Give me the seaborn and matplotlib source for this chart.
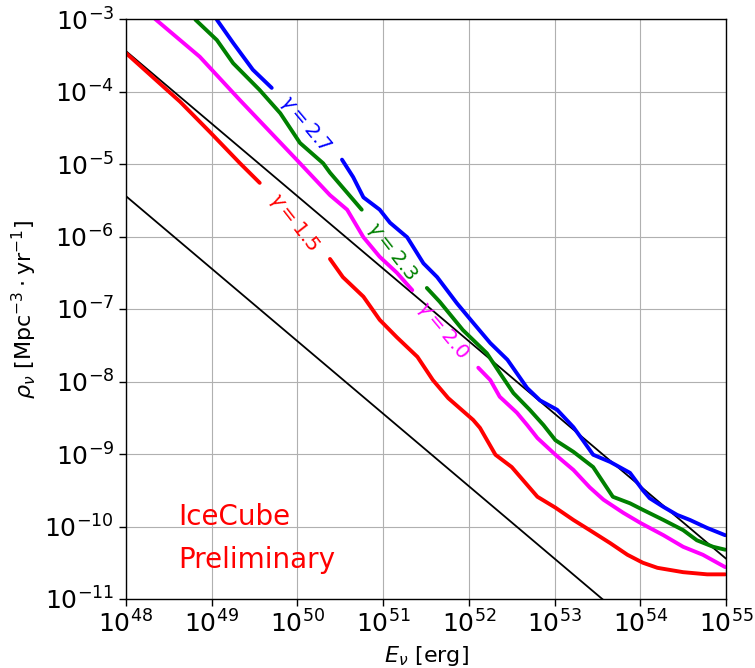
import numpy as np
import pandas as pd
import matplotlib
matplotlib.use("Agg")
import matplotlib.pyplot as plt
import seaborn as sns

# log10(E / erg) and log10(rho / Mpc^-3 yr^-1) for each spectral index,
# split into the stretch before and after the inline label.
g27_a_logE = [49.06, 49.25, 49.48, 49.70]
g27_a_logR = [-3.01, -3.33, -3.70, -3.95]
g27_b_logE = [50.52, 50.65, 50.77, 50.96, 51.08, 51.28, 51.47, 51.63, 51.86, 52.05,
              52.25, 52.45, 52.68, 52.83, 53.03, 53.22, 53.33, 53.45, 53.65, 53.88,
              54.03, 54.11, 54.27, 54.43, 54.58, 54.78, 54.99]
g27_b_logR = [-4.94, -5.18, -5.46, -5.63, -5.81, -6.01, -6.37, -6.56, -6.92, -7.19,
              -7.47, -7.70, -8.09, -8.26, -8.39, -8.63, -8.81, -9.01, -9.11, -9.26,
              -9.50, -9.61, -9.73, -9.84, -9.91, -10.02, -10.12]

g23_a_logE = [48.81, 49.06, 49.25, 49.56, 49.80, 50.03, 50.30, 50.38, 50.75]
g23_a_logR = [-3.01, -3.29, -3.61, -3.98, -4.30, -4.71, -4.99, -5.12, -5.63]
g23_b_logE = [51.51, 51.66, 51.93, 52.21, 52.36, 52.52, 52.71, 52.87, 53.01, 53.22,
              53.45, 53.68, 53.88, 54.03, 54.27, 54.50, 54.66, 54.85, 54.99]
g23_b_logR = [-6.71, -6.90, -7.29, -7.61, -7.88, -8.16, -8.39, -8.60, -8.81, -8.97,
              -9.18, -9.59, -9.68, -9.77, -9.91, -10.05, -10.19, -10.28, -10.32]

g20_a_logE = [48.34, 48.86, 49.33, 50.03, 50.38, 50.58, 50.77, 50.96, 51.16, 51.34]
g20_a_logR = [-3.00, -3.52, -4.12, -4.99, -5.43, -5.63, -6.01, -6.28, -6.50, -6.74]
g20_b_logE = [52.11, 52.25, 52.36, 52.56, 52.68, 52.80, 53.01, 53.22, 53.41, 53.57,
              53.80, 54.00, 54.27, 54.50, 54.73, 54.99]
g20_b_logR = [-7.81, -7.98, -8.21, -8.43, -8.60, -8.78, -9.01, -9.22, -9.46, -9.63,
              -9.81, -9.95, -10.12, -10.28, -10.39, -10.56]

g15_a_logE = [48.00, 48.63, 48.98, 49.33, 49.56]
g15_a_logR = [-3.47, -4.14, -4.56, -4.99, -5.26]
g15_b_logE = [50.38, 50.53, 50.77, 50.96, 51.16, 51.40, 51.58, 51.76, 52.05, 52.13,
              52.31, 52.50, 52.80, 53.01, 53.22, 53.41, 53.65, 53.85, 54.03, 54.20,
              54.50, 54.78, 54.99]
g15_b_logR = [-6.31, -6.56, -6.83, -7.15, -7.39, -7.66, -7.98, -8.23, -8.53, -8.64,
              -9.01, -9.18, -9.59, -9.74, -9.91, -10.05, -10.23, -10.39, -10.50, -10.57,
              -10.63, -10.66, -10.66]

# Reference lines rho = A * (E / 1e48)^-1
ref_E = [1e48, 1e55]
ref_norms = [3.6e-4, 3.6e-6]

labels = ["$\\gamma = 2.7$", "$\\gamma = 2.3$", "$\\gamma = 2.0$", "$\\gamma = 1.5$"]
colors = ["blue", "green", "magenta", "red"]

curves = [
    [(g27_a_logE, g27_a_logR), (g27_b_logE, g27_b_logR)],
    [(g23_a_logE, g23_a_logR), (g23_b_logE, g23_b_logR)],
    [(g20_a_logE, g20_a_logR), (g20_b_logE, g20_b_logR)],
    [(g15_a_logE, g15_a_logR), (g15_b_logE, g15_b_logR)],
]

# inline label placement (log10 E, log10 rho, rotation)
label_pos = [(50.09, -4.45, -50), (51.10, -6.21, -52), (51.70, -7.29, -50), (49.96, -5.80, -52)]

sns.set_style("ticks")
plt.rcParams["font.family"] = ["DejaVu Sans"]
plt.rcParams["mathtext.fontset"] = "dejavusans"
plt.rcParams["text.color"] = "black"
plt.rcParams["axes.labelcolor"] = "black"
plt.rcParams["xtick.color"] = "black"
plt.rcParams["ytick.color"] = "black"

fig = plt.figure(figsize=(7.55, 6.68), dpi=100)
ax = fig.add_axes([126 / 755, 1 - 599 / 668, 600 / 755, 580 / 668])

for A in ref_norms:
    E = np.array(ref_E)
    sns.lineplot(x=E, y=A * (E / 1e48) ** -1, color="black", lw=1.3, ax=ax,
                 estimator=None, sort=False)

for segs, col in zip(curves, colors):
    for logE, logR in segs:
        df = pd.DataFrame({"E": 10 ** np.array(logE), "rho": 10 ** np.array(logR)})
        sns.lineplot(data=df, x="E", y="rho", color=col, lw=2.8, ax=ax,
                     estimator=None, sort=False)

for lab, col, (lx, ly, rot) in zip(labels, colors, label_pos):
    ax.text(10 ** lx, 10 ** ly, lab, color=col, fontsize=14.5, rotation=rot,
            ha="center", va="center", rotation_mode="anchor")

ax.set_xscale("log")
ax.set_yscale("log")
ax.set_xlim(1e48, 1e55)
ax.set_ylim(1e-11, 1e-3)
ax.set_xticks([10.0 ** k for k in range(48, 56)])
ax.set_yticks([10.0 ** k for k in range(-11, -2)])
ax.minorticks_off()
ax.grid(True, which="major", color="#b0b0b0", lw=0.8)
ax.tick_params(axis="both", labelsize=18, length=5, width=1, color="black",
               labelcolor="black")
for s in ax.spines.values():
    s.set_color("black")
    s.set_linewidth(1.0)

ax.set_xlabel("$E_\\nu$ [erg]", fontsize=16)
ax.set_ylabel("$\\rho_\\nu$ [Mpc$^{-3}\\cdot\\mathrm{yr}^{-1}$]", fontsize=16)

ax.text(0.087, 0.141, "IceCube", transform=ax.transAxes, color="red",
        fontsize=20, ha="left", va="center")
ax.text(0.087, 0.067, "Preliminary", transform=ax.transAxes, color="red",
        fontsize=20, ha="left", va="center")

fig.savefig("out.png", dpi=100)
